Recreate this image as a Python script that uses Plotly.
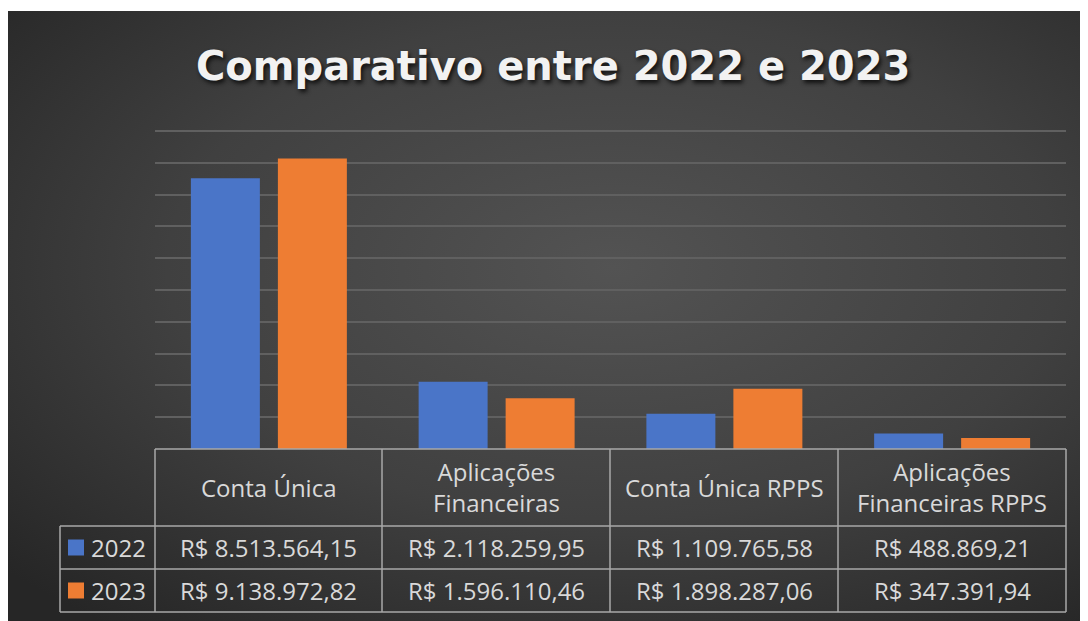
import base64
import plotly.graph_objects as go

categories = ["Conta Única", "Aplicações<br>Financeiras", "Conta Única RPPS", "Aplicações<br>Financeiras RPPS"]
years = ["2022", "2023"]
values_2022 = [8513564.15, 2118259.95, 1109765.58, 488869.21]
values_2023 = [9138972.82, 1596110.46, 1898287.06, 347391.94]
colors = ["#4a75c8", "#ee7d33"]

OFF = 8  # browser body margin
W, H = 1080, 613
# plot area in reference (window) pixels
X0, X1, YTOP, YBASE = 155, 1066, 131, 449
ML = X0 - OFF
MR = W - (X1 - OFF)
MT = YTOP - OFF - 2
MB = H - (YBASE - OFF)
PW, PH = W - ML - MR, H - MT - MB
YMAX = 10000000 * PH / (YBASE - YTOP)


def px(x):
    return (x - OFF - ML) / PW


def py(y):
    return (H - MB - (y - OFF)) / PH


def brl(v):
    s = f"{v:,.2f}".replace(",", "X").replace(".", ",").replace("X", ".")
    return "R$ " + s


fig = go.Figure()
for name, vals, col in zip(years, [values_2022, values_2023], colors):
    fig.add_trace(go.Bar(x=categories, y=vals, name=name, marker=dict(color=col, line=dict(width=0)),
                         showlegend=False, hoverinfo="y"))

svg = '''<svg xmlns="http://www.w3.org/2000/svg" width="1080" height="610">
<defs><radialGradient id="g" cx="56%" cy="42%" r="75%">
<stop offset="0" stop-color="#535353"/><stop offset="0.55" stop-color="#404040"/><stop offset="1" stop-color="#262626"/>
</radialGradient></defs><rect width="1080" height="610" fill="url(#g)"/></svg>'''
src = "data:image/svg+xml;base64," + base64.b64encode(svg.encode()).decode()

shapes = []
line = dict(color="#a9a9a9", width=1.5)


def seg(x0, y0, x1, y1):
    shapes.append(dict(type="line", xref="paper", yref="paper", x0=px(x0), y0=py(y0), x1=px(x1), y1=py(y1), line=line))


cols = [155, 382, 610, 838, 1066]
rows = [449, 526, 569, 612]
for c in cols:
    seg(c, 449, c, 612)
seg(155, 449, 1066, 449)
for r in rows[1:]:
    seg(60, r, 1066, r)
seg(60, 526, 60, 612)

annotations = []
txtfont = dict(family="Open Sans", size=24, color="#d9d9d9")
for i, cat in enumerate(categories):
    cx = (cols[i] + cols[i + 1]) / 2
    annotations.append(dict(text=cat, x=px(cx), y=py(487), xref="paper", yref="paper", showarrow=False,
                            font=txtfont, align="center", xanchor="center", yanchor="middle"))
    for j, vals in enumerate([values_2022, values_2023]):
        yc = (rows[j + 1] + rows[j + 2]) / 2
        annotations.append(dict(text=brl(vals[i]), x=px(cx), y=py(yc), xref="paper", yref="paper",
                                showarrow=False, font=txtfont, xanchor="center", yanchor="middle"))

for j, (yr, col) in enumerate(zip(years, colors)):
    yc = (rows[j + 1] + rows[j + 2]) / 2
    shapes.append(dict(type="rect", xref="paper", yref="paper", x0=px(68), x1=px(84), y0=py(yc + 8), y1=py(yc - 8),
                       fillcolor=col, line=dict(width=0)))
    annotations.append(dict(text=yr, x=px(89), y=py(yc), xref="paper", yref="paper", showarrow=False,
                            font=txtfont, xanchor="left", yanchor="middle"))

annotations.append(dict(text="<b>Comparativo entre 2022 e 2023</b>", x=px(553), y=py(66), xref="paper", yref="paper",
                        showarrow=False, xanchor="center", yanchor="middle",
                        font=dict(family="DejaVu Sans", size=40, color="#f2f2f2", shadow="2px 3px 4px #111111")))

fig.update_layout(
    width=W, height=H,
    margin=dict(l=ML, r=MR, t=MT, b=MB, autoexpand=False),
    paper_bgcolor="white", plot_bgcolor="rgba(0,0,0,0)",
    barmode="group", bargap=0.236, bargroupgap=0.207,
    xaxis=dict(showticklabels=False, showgrid=False, zeroline=False, showline=False, ticks=""),
    yaxis=dict(range=[0, YMAX], dtick=1000000, showticklabels=False, gridcolor="#606060", gridwidth=1.5,
               zeroline=False, showline=False, ticks=""),
    images=[dict(source=src, xref="paper", yref="paper", x=px(8), y=py(11), sizex=(W) / PW, sizey=(H - 3) / PH,
                 xanchor="left", yanchor="top", sizing="stretch", layer="below")],
    shapes=shapes, annotations=annotations, showlegend=False,
)

fig.write_html("out.html")
